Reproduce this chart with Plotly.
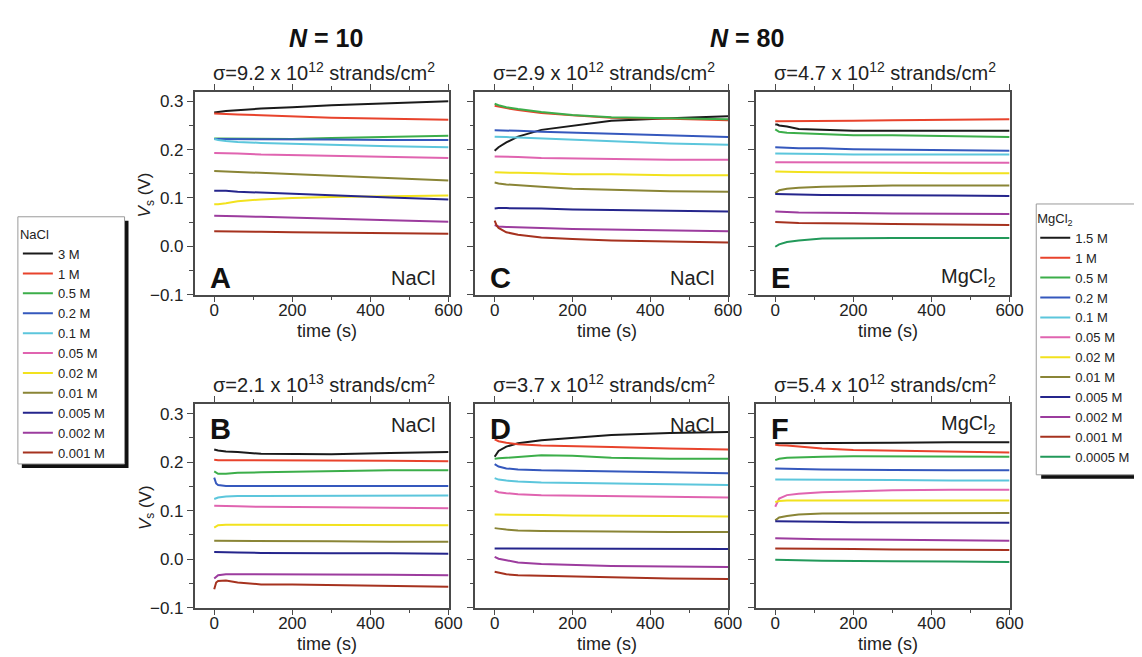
import plotly.graph_objects as go

W, H = 1142, 657

# ---------------- data ----------------
T = [0, 5, 10, 30, 60, 120, 200, 300, 450, 600]  # time (s)

nacl_labels = ["3 M", "1 M", "0.5 M", "0.2 M", "0.1 M", "0.05 M", "0.02 M",
               "0.01 M", "0.005 M", "0.002 M", "0.001 M"]
mgcl2_labels = ["1.5 M", "1 M", "0.5 M", "0.2 M", "0.1 M", "0.05 M", "0.02 M",
                "0.01 M", "0.005 M", "0.002 M", "0.001 M", "0.0005 M"]

colors = ["#1a1a1a", "#e8432c", "#3cae4a", "#3558bd", "#5cc6dc", "#e064b0",
          "#f2e21e", "#8a8536", "#25258c", "#9c3c9e", "#a6321f", "#22995a"]

# Panel A: N=10, sigma=9.2e12, NaCl
A_vals = [
    [0.277, 0.277, 0.278, 0.280, 0.282, 0.285, 0.288, 0.292, 0.296, 0.300],
    [0.275, 0.275, 0.275, 0.274, 0.273, 0.271, 0.268, 0.266, 0.264, 0.262],
    [0.223, 0.223, 0.223, 0.222, 0.222, 0.222, 0.222, 0.224, 0.227, 0.229],
    [0.222, 0.222, 0.222, 0.222, 0.222, 0.222, 0.222, 0.221, 0.220, 0.220],
    [0.222, 0.221, 0.220, 0.218, 0.216, 0.214, 0.212, 0.210, 0.207, 0.205],
    [0.193, 0.193, 0.193, 0.192, 0.192, 0.190, 0.189, 0.187, 0.185, 0.183],
    [0.087, 0.087, 0.087, 0.089, 0.093, 0.097, 0.100, 0.102, 0.103, 0.105],
    [0.156, 0.156, 0.156, 0.155, 0.154, 0.152, 0.148, 0.145, 0.141, 0.136],
    [0.115, 0.115, 0.115, 0.115, 0.113, 0.111, 0.108, 0.105, 0.101, 0.097],
    [0.063, 0.063, 0.063, 0.063, 0.062, 0.061, 0.059, 0.057, 0.054, 0.051],
    [0.031, 0.031, 0.031, 0.031, 0.031, 0.030, 0.029, 0.028, 0.027, 0.026],
]
# Panel B: N=10, sigma=2.1e13, NaCl
B_vals = [
    [0.226, 0.225, 0.224, 0.222, 0.221, 0.217, 0.216, 0.216, 0.219, 0.221],
    [0.205, 0.204, 0.204, 0.204, 0.204, 0.204, 0.204, 0.203, 0.203, 0.202],
    [0.181, 0.178, 0.176, 0.176, 0.178, 0.179, 0.180, 0.181, 0.183, 0.183],
    [0.168, 0.156, 0.153, 0.151, 0.151, 0.151, 0.151, 0.151, 0.151, 0.151],
    [0.124, 0.125, 0.127, 0.129, 0.130, 0.130, 0.130, 0.130, 0.131, 0.131],
    [0.110, 0.110, 0.110, 0.110, 0.109, 0.108, 0.108, 0.107, 0.106, 0.105],
    [0.065, 0.067, 0.070, 0.071, 0.071, 0.071, 0.071, 0.070, 0.070, 0.070],
    [0.038, 0.038, 0.038, 0.038, 0.037, 0.037, 0.037, 0.037, 0.036, 0.036],
    [0.015, 0.015, 0.015, 0.014, 0.014, 0.013, 0.012, 0.012, 0.012, 0.011],
    [-0.040, -0.036, -0.033, -0.031, -0.031, -0.031, -0.032, -0.032, -0.032, -0.033],
    [-0.062, -0.048, -0.045, -0.044, -0.048, -0.052, -0.052, -0.053, -0.055, -0.057],
]
# Panel C: N=80, sigma=2.9e12, NaCl
C_vals = [
    [0.198, 0.201, 0.205, 0.215, 0.227, 0.241, 0.250, 0.260, 0.265, 0.269],
    [0.291, 0.290, 0.289, 0.286, 0.282, 0.276, 0.271, 0.266, 0.264, 0.261],
    [0.295, 0.293, 0.292, 0.288, 0.284, 0.278, 0.272, 0.267, 0.265, 0.263],
    [0.240, 0.240, 0.240, 0.239, 0.239, 0.237, 0.235, 0.233, 0.230, 0.226],
    [0.227, 0.227, 0.227, 0.226, 0.225, 0.223, 0.220, 0.217, 0.213, 0.210],
    [0.186, 0.186, 0.186, 0.185, 0.185, 0.183, 0.182, 0.181, 0.179, 0.179],
    [0.153, 0.153, 0.153, 0.153, 0.152, 0.151, 0.149, 0.149, 0.147, 0.147],
    [0.132, 0.131, 0.130, 0.128, 0.126, 0.123, 0.119, 0.117, 0.114, 0.113],
    [0.078, 0.079, 0.079, 0.079, 0.079, 0.078, 0.076, 0.075, 0.073, 0.072],
    [0.044, 0.042, 0.041, 0.040, 0.039, 0.038, 0.036, 0.035, 0.033, 0.031],
    [0.053, 0.043, 0.038, 0.029, 0.024, 0.018, 0.015, 0.012, 0.010, 0.008],
]
# Panel D: N=80, sigma=3.7e12, NaCl
D_vals = [
    [0.211, 0.218, 0.223, 0.232, 0.239, 0.245, 0.250, 0.256, 0.260, 0.262],
    [0.247, 0.245, 0.243, 0.240, 0.237, 0.234, 0.233, 0.231, 0.228, 0.226],
    [0.207, 0.207, 0.208, 0.209, 0.211, 0.214, 0.213, 0.209, 0.207, 0.207],
    [0.196, 0.193, 0.191, 0.187, 0.185, 0.183, 0.182, 0.181, 0.179, 0.177],
    [0.167, 0.165, 0.164, 0.162, 0.160, 0.158, 0.157, 0.156, 0.155, 0.153],
    [0.141, 0.139, 0.138, 0.136, 0.134, 0.132, 0.131, 0.130, 0.128, 0.127],
    [0.092, 0.092, 0.092, 0.091, 0.091, 0.091, 0.090, 0.089, 0.089, 0.088],
    [0.064, 0.063, 0.063, 0.061, 0.059, 0.058, 0.058, 0.057, 0.056, 0.056],
    [0.022, 0.022, 0.022, 0.022, 0.022, 0.022, 0.022, 0.022, 0.022, 0.021],
    [0.005, 0.003, 0.001, -0.002, -0.007, -0.010, -0.012, -0.014, -0.015, -0.016],
    [-0.026, -0.027, -0.028, -0.031, -0.033, -0.034, -0.036, -0.037, -0.040, -0.041],
]
# Panel E: N=80, sigma=4.7e12, MgCl2
E_vals = [
    [0.252, 0.252, 0.250, 0.248, 0.243, 0.241, 0.239, 0.239, 0.239, 0.239],
    [0.259, 0.259, 0.259, 0.259, 0.260, 0.260, 0.260, 0.261, 0.262, 0.263],
    [0.242, 0.239, 0.237, 0.235, 0.234, 0.232, 0.230, 0.230, 0.228, 0.226],
    [0.205, 0.205, 0.205, 0.204, 0.203, 0.203, 0.201, 0.200, 0.200, 0.198],
    [0.192, 0.192, 0.192, 0.192, 0.191, 0.191, 0.190, 0.190, 0.190, 0.190],
    [0.174, 0.174, 0.174, 0.174, 0.174, 0.173, 0.173, 0.173, 0.173, 0.173],
    [0.155, 0.155, 0.155, 0.155, 0.154, 0.153, 0.153, 0.152, 0.151, 0.151],
    [0.110, 0.113, 0.116, 0.119, 0.121, 0.123, 0.125, 0.126, 0.126, 0.126],
    [0.108, 0.108, 0.108, 0.107, 0.107, 0.106, 0.106, 0.106, 0.105, 0.104],
    [0.072, 0.072, 0.072, 0.071, 0.070, 0.070, 0.069, 0.068, 0.068, 0.067],
    [0.050, 0.050, 0.050, 0.049, 0.048, 0.048, 0.047, 0.046, 0.045, 0.044],
    [-0.001, 0.001, 0.004, 0.009, 0.012, 0.016, 0.017, 0.017, 0.017, 0.017],
]
# Panel F: N=80, sigma=5.4e12, MgCl2
F_vals = [
    [0.239, 0.239, 0.239, 0.239, 0.240, 0.240, 0.240, 0.240, 0.241, 0.241],
    [0.236, 0.236, 0.235, 0.234, 0.232, 0.228, 0.225, 0.224, 0.222, 0.220],
    [0.204, 0.206, 0.207, 0.209, 0.210, 0.211, 0.212, 0.212, 0.212, 0.211],
    [0.187, 0.187, 0.187, 0.187, 0.186, 0.185, 0.185, 0.184, 0.183, 0.183],
    [0.164, 0.164, 0.164, 0.164, 0.164, 0.164, 0.163, 0.163, 0.162, 0.162],
    [0.108, 0.118, 0.125, 0.132, 0.135, 0.138, 0.140, 0.142, 0.143, 0.143],
    [0.118, 0.119, 0.120, 0.121, 0.121, 0.121, 0.121, 0.121, 0.121, 0.121],
    [0.080, 0.083, 0.086, 0.089, 0.092, 0.094, 0.094, 0.095, 0.095, 0.095],
    [0.078, 0.078, 0.078, 0.078, 0.078, 0.077, 0.076, 0.076, 0.076, 0.075],
    [0.043, 0.043, 0.043, 0.042, 0.042, 0.041, 0.040, 0.040, 0.039, 0.038],
    [0.022, 0.022, 0.022, 0.022, 0.022, 0.021, 0.021, 0.020, 0.020, 0.019],
    [-0.001, -0.001, -0.001, -0.001, -0.002, -0.003, -0.003, -0.004, -0.005, -0.006],
]

panel_letters = ["A", "B", "C", "D", "E", "F"]
salt_names = ["NaCl", "NaCl", "NaCl", "NaCl", "MgCl<sub>2</sub>", "MgCl<sub>2</sub>"]
sigma_texts = ["9.2 x 10<sup>12</sup>", "2.1 x 10<sup>13</sup>", "2.9 x 10<sup>12</sup>",
               "3.7 x 10<sup>12</sup>", "4.7 x 10<sup>12</sup>", "5.4 x 10<sup>12</sup>"]
x_ticks = [0, 200, 400, 600]
y_ticks = [-0.1, 0.0, 0.1, 0.2, 0.3]

# ---------------- layout helpers ----------------
def fx(p):
    return p / W

def fy(p):
    return 1 - p / H

FONT = "Liberation Sans, Arial, sans-serif"
TXT = "#222222"
AX = "#4a4a4a"

cols = [(189, 446), (473, 729), (757, 1014)]
rows = [(85, 291), (402, 609)]
pos = {"A": (0, 0), "B": (0, 1), "C": (1, 0), "D": (1, 1), "E": (2, 0), "F": (2, 1)}
data = {"A": A_vals, "B": B_vals, "C": C_vals, "D": D_vals, "E": E_vals, "F": F_vals}

fig = go.Figure()
layout = dict(
    width=W, height=H,
    margin=dict(l=0, r=0, t=0, b=0),
    paper_bgcolor="white", plot_bgcolor="white",
    font=dict(family=FONT, color=TXT),
    showlegend=True,
)

annotations = []
for i, key in enumerate(panel_letters, start=1):
    c, r = pos[key]
    x0, x1 = cols[c]
    y0, y1 = rows[r]
    vals = data[key]
    mg = key in ("E", "F")
    labels = mgcl2_labels if mg else nacl_labels
    for k, series in enumerate(vals):
        show = (key == "A") or (key == "E")
        fig.add_trace(go.Scatter(
            x=T, y=series, mode="lines",
            line=dict(color=colors[k], width=2),
            name=labels[k],
            xaxis="x" if i == 1 else f"x{i}",
            yaxis="y" if i == 1 else f"y{i}",
            showlegend=show,
            legend="legend2" if mg else "legend",
        ))
    xa = "xaxis" if i == 1 else f"xaxis{i}"
    ya = "yaxis" if i == 1 else f"yaxis{i}"
    layout[xa] = dict(
        domain=[fx(x0), fx(x1)], range=[-50, 600],
        anchor="y" if i == 1 else f"y{i}",
        tickmode="array", tickvals=x_ticks,
        ticks="outside", ticklen=6, tickwidth=1.3, tickcolor=AX,
        ticklabelstandoff=-7,
        minor=dict(tickvals=[100, 300, 500], ticks="outside", ticklen=3.5, tickwidth=1.2, tickcolor=AX),
        showline=True, linecolor=AX, linewidth=1.5, mirror="ticks",
        showgrid=False, zeroline=False,
        tickfont=dict(size=17, color=TXT, family=FONT),
    )
    layout[ya] = dict(
        domain=[fy(y1), fy(y0)], range=[-0.1, 0.32],
        anchor="x" if i == 1 else f"x{i}",
        tickmode="array", tickvals=y_ticks, tickformat=".1f",
        ticks="outside", ticklen=6, tickwidth=1.3, tickcolor=AX,
        minor=dict(tickvals=[-0.05, 0.05, 0.15, 0.25], ticks="outside", ticklen=3.5, tickwidth=1.2, tickcolor=AX),
        showline=True, linecolor=AX, linewidth=1.5, mirror=True,
        showgrid=False, zeroline=False,
        showticklabels=(c == 0),
        tickfont=dict(size=17, color=TXT, family=FONT),
    )
    xc = (x0 + x1) / 2 + 2
    # sigma subtitle
    annotations.append(dict(
        text="σ=" + sigma_texts[i - 1] + " strands/cm<sup>2</sup>",
        x=fx(xc), y=fy(y0 - 6), xref="paper", yref="paper",
        xanchor="center", yanchor="bottom", showarrow=False,
        font=dict(size=20, color=TXT, family=FONT)))
    # time axis title
    annotations.append(dict(
        text="time (s)", x=fx((x0 + x1) / 2 + 5), y=fy(y1 + 37), xref="paper", yref="paper",
        xanchor="center", yanchor="middle", showarrow=False,
        font=dict(size=18, color=TXT, family=FONT)))
    # panel letter and salt label
    top = (r == 1)
    ly = y0 + 25 if top else y1 - 17
    annotations.append(dict(
        text="<b>" + key + "</b>", x=fx(x0 + 13), y=fy(ly), xref="paper", yref="paper",
        xanchor="left", yanchor="middle", showarrow=False,
        font=dict(size=29, color="#111111", family=FONT)))
    annotations.append(dict(
        text=salt_names[i - 1], x=fx(x1 - 12), y=fy(ly - (4 if top else 0)), xref="paper", yref="paper",
        xanchor="right", yanchor="middle", showarrow=False,
        font=dict(size=20, color=TXT, family=FONT)))
    if c == 0:
        annotations.append(dict(
            text="<i>V</i><sub>s</sub> (V)", x=fx(140), y=fy((y0 + y1) / 2 + 2), xref="paper", yref="paper",
            xanchor="center", yanchor="middle", textangle=-90, showarrow=False,
            font=dict(size=17, color=TXT, family=FONT)))

annotations.append(dict(text="<b><i>N</i> = 10</b>", x=fx(322), y=fy(30), xref="paper", yref="paper",
                        xanchor="center", yanchor="middle", showarrow=False,
                        font=dict(size=25, color="#111111", family=FONT)))
annotations.append(dict(text="<b><i>N</i> = 80</b>", x=fx(748), y=fy(30), xref="paper", yref="paper",
                        xanchor="center", yanchor="middle", showarrow=False,
                        font=dict(size=25, color="#111111", family=FONT)))
layout["annotations"] = annotations

# legend frames with drop shadow
shapes = [
    dict(type="rect", xref="paper", yref="paper", x0=fx(14), x1=fx(122), y0=fy(467), y1=fy(216),
         fillcolor="#111111", line=dict(width=0), layer="above"),
    dict(type="rect", xref="paper", yref="paper", x0=fx(10), x1=fx(118), y0=fy(463), y1=fy(212),
         fillcolor="white", line=dict(color="#9a9a9a", width=1), layer="above"),
    dict(type="rect", xref="paper", yref="paper", x0=fx(1046), x1=fx(1150), y0=fy(478), y1=fy(204),
         fillcolor="#111111", line=dict(width=0), layer="above"),
    dict(type="rect", xref="paper", yref="paper", x0=fx(1041), x1=fx(1146), y0=fy(474), y1=fy(199),
         fillcolor="white", line=dict(color="#9a9a9a", width=1), layer="above"),
]
layout["shapes"] = shapes

layout["legend"] = dict(
    x=fx(10), y=fy(217), xanchor="left", yanchor="top",
    bgcolor="rgba(0,0,0,0)", borderwidth=0, tracegroupgap=0,
    title=dict(text="NaCl", font=dict(size=13, color=TXT, family=FONT)),
    font=dict(size=13, color=TXT, family=FONT), itemwidth=30,
)
layout["legend2"] = dict(
    x=fx(1040), y=fy(201), xanchor="left", yanchor="top",
    bgcolor="rgba(0,0,0,0)", borderwidth=0, tracegroupgap=0,
    title=dict(text="MgCl<sub>2</sub>", font=dict(size=13, color=TXT, family=FONT)),
    font=dict(size=13, color=TXT, family=FONT), itemwidth=30,
)

fig.update_layout(**layout)
fig.write_html("out.html")
